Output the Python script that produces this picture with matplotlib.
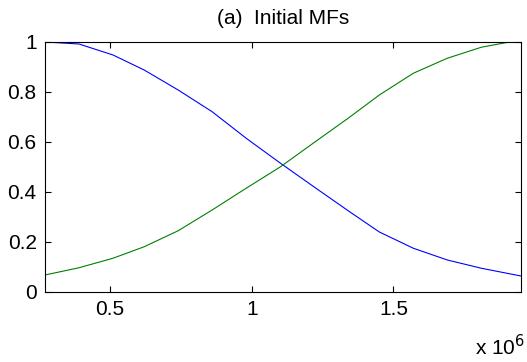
import matplotlib
matplotlib.use("Agg")
import matplotlib.pyplot as plt

plt.rcParams['font.family'] = ['Liberation Sans', 'DejaVu Sans']

# values (x in units of 1e6)
x_vals = [0.27, 0.39, 0.51, 0.62, 0.74, 0.86, 0.98, 1.10, 1.22, 1.34,
          1.45, 1.57, 1.69, 1.81, 1.90, 1.95]
blue_mf = [1.0, 0.992, 0.948, 0.888, 0.808, 0.721, 0.615, 0.516, 0.42,
           0.325, 0.24, 0.175, 0.128, 0.095, 0.075, 0.064]
green_mf = [0.068, 0.097, 0.135, 0.181, 0.245, 0.328, 0.415, 0.50, 0.598,
            0.695, 0.788, 0.875, 0.935, 0.979, 0.998, 1.0]

xs = [v * 1e6 for v in x_vals]

fig = plt.figure(figsize=(5.27, 3.62), dpi=100)
ax = fig.add_axes([0.0854, 0.1934, 0.9032, 0.6906])

ax.plot(xs, blue_mf, color=(0, 0, 1), lw=0.8)
ax.plot(xs, green_mf, color=(0, 0.5, 0), lw=0.8)

ax.set_xlim(0.27e6, 1.95e6)
ax.set_ylim(0, 1)
ax.set_xticks([0.5e6, 1.0e6, 1.5e6])
ax.set_xticklabels(['0.5', '1', '1.5'])
ax.set_yticks([0, 0.2, 0.4, 0.6, 0.8, 1])
ax.set_yticklabels(['0', '0.2', '0.4', '0.6', '0.8', '1'])
ax.tick_params(direction='in', length=4, width=0.8, labelsize=15,
               top=True, right=True, pad=6)
for s in ax.spines.values():
    s.set_linewidth(0.8)

ax.set_title('(a)  Initial MFs', fontsize=15, pad=13)
fig.text(0.997, 0.008, r'x 10$^6$', ha='right', va='bottom', fontsize=15)

fig.savefig('out.png', dpi=100)
